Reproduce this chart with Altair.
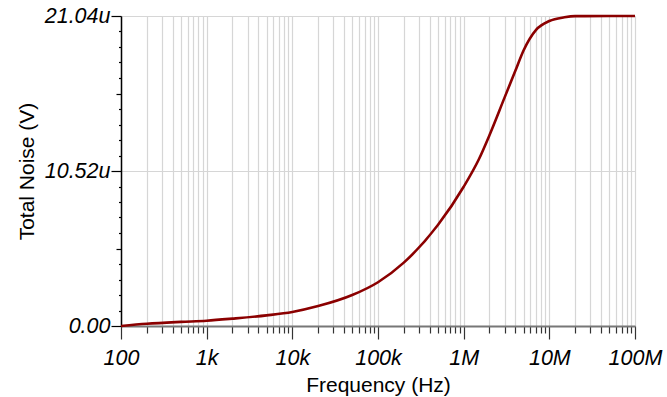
import altair as alt
import pandas as pd

# Frequency (Hz) and total noise (micro-volts)
freq = [100, 200, 500, 1e3, 2e3, 5e3, 1e4, 2e4, 5e4, 1e5, 2e5, 5e5,
        1e6, 1.5e6, 2e6, 3e6, 4e6, 5e6, 7e6, 1e7, 1.5e7, 2e7, 5e7, 1e8]
noise_u = [0.0, 0.15, 0.28, 0.36, 0.5, 0.72, 0.95, 1.35, 2.1, 2.97, 4.3, 6.85,
           9.45, 11.3, 12.95, 15.5, 17.3, 18.7, 20.1, 20.7, 20.95, 21.03, 21.04, 21.04]

x_major = [100, 1000, 10000, 100000, 1000000, 10000000, 100000000]
x_major_labels = ["100", "1k", "10k", "100k", "1M", "10M", "100M"]
x_minor = [k * d for d in x_major[:-1] for k in range(2, 10)]

y_major = [0.0, 10.52, 21.04]
y_major_labels = ["0.00", "10.52u", "21.04u"]
y_medium = [5.26, 15.78]
y_minor = [round(i * 1.052, 3) for i in range(21)]

df = pd.DataFrame({"f": freq, "v": noise_u})

x_vals = sorted(set(x_major + x_minor))
xm = "[" + ",".join(str(v) for v in x_major) + "]"
xl = "[" + ",".join("'" + s + "'" for s in x_major_labels) + "]"
x_label_expr = f"indexof({xm}, datum.value) >= 0 ? {xl}[indexof({xm}, datum.value)] : ''"
x_major_test = f"indexof({xm}, datum.value) >= 0"

def near_any(vals):
    return " || ".join(f"abs(datum.value - {v}) < 1e-6" for v in vals)

y_major_test = near_any(y_major)
y_medium_test = near_any(y_medium)
y_label_expr = " : ".join(
    f"abs(datum.value - {v}) < 1e-6 ? '{s}'" for v, s in zip(y_major, y_major_labels)
) + " : ''"

FONT = "Liberation Sans"

x_axis = alt.Axis(
    values=x_vals,
    labelExpr=x_label_expr,
    labelOverlap=False,
    labelFlush=False,
    labelFont=FONT,
    labelFontSize=21.5,
    labelFontStyle="italic",
    labelColor="#000000",
    labelPadding=8,
    tickSize={"condition": {"test": x_major_test, "value": 13}, "value": 7},
    tickColor="#333333",
    tickWidth=1.2,
    domainColor="#777777",
    domainWidth=2,
    grid=True,
    gridColor="#d6d6d6",
    gridWidth=1.2,
    title="Frequency (Hz)",
    titleFont=FONT,
    titleFontSize=21,
    titleFontWeight="normal",
    titleColor="#000000",
    titlePadding=6,
)

y_axis = alt.Axis(
    values=y_minor,
    labelExpr=y_label_expr,
    labelOverlap=False,
    labelFlush=False,
    labelFont=FONT,
    labelFontSize=21.5,
    labelFontStyle="italic",
    labelColor="#000000",
    labelPadding=1,
    tickSize={"condition": [{"test": y_major_test, "value": 10},
                            {"test": y_medium_test, "value": 5}], "value": 2.5},
    tickColor="#000000",
    tickWidth=1.2,
    domainColor="#000000",
    domainWidth=1.5,
    grid=True,
    gridColor="#d6d6d6",
    gridWidth=1.2,
    gridOpacity={"condition": {"test": y_major_test, "value": 1}, "value": 0},
    title="Total Noise (V)",
    titleFont=FONT,
    titleFontSize=21,
    titleFontWeight="normal",
    titleColor="#000000",
    titlePadding=7,
)

chart = alt.Chart(df).mark_line(
    color="#8b0000", strokeWidth=2.6, interpolate="monotone"
).encode(
    x=alt.X("f:Q", scale=alt.Scale(type="log", domain=[100, 1e8], nice=False), axis=x_axis),
    y=alt.Y("v:Q", scale=alt.Scale(domain=[0, 21.04], nice=False, zero=True), axis=y_axis),
).properties(
    width=514,
    height=310,
    autosize=alt.AutoSizeParams(type="none"),
    padding={"left": 121, "top": 16, "right": 32, "bottom": 71},
).configure_view(stroke=None).configure(background="white")

chart.save("out.html", embed_options={"renderer": "svg", "actions": False})
